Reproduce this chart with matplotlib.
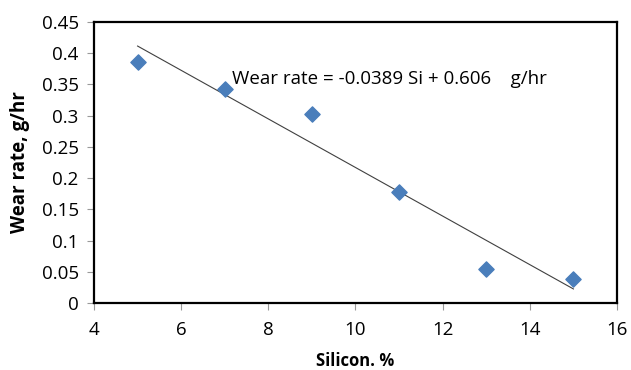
import matplotlib.pyplot as plt
import numpy as np

plt.rcParams['font.family'] = ['Open Sans', 'DejaVu Sans']

silicon = [5, 7, 9, 11, 13, 15]
wear = [0.386, 0.343, 0.302, 0.177, 0.055, 0.038]
slope = -0.0389
intercept = 0.606

fig = plt.figure(figsize=(6.31, 3.70), dpi=100)
ax = fig.add_axes([94/631, 1 - 303/370, 523/631, 281/370])

xs = np.array([min(silicon), max(silicon)])
ax.plot(xs, slope * xs + intercept, color='#404040', lw=0.8, zorder=2)
ax.scatter(silicon, wear, marker='D', s=60, color='#4a7ebb', zorder=3)

ax.text(7.17, 0.359, 'Wear rate = -0.0389 Si + 0.606    g/hr', fontsize=13.5,
        va='center', ha='left')

ax.set_xlim(4, 16)
ax.set_ylim(0, 0.45)
ax.set_xticks(range(4, 17, 2))
ax.set_yticks(np.arange(0, 0.451, 0.05))
ax.set_yticklabels(['0', '0.05', '0.1', '0.15', '0.2', '0.25', '0.3', '0.35', '0.4', '0.45'])
ax.tick_params(labelsize=13.5, length=5, color='#999999', direction='out', pad=6)
ax.tick_params(axis='x', pad=8)
for s in ax.spines.values():
    s.set_color('black')
    s.set_linewidth(1.6)

ax.set_xlabel('Silicon. %', fontsize=12, fontweight='bold')
ax.xaxis.set_label_coords(0.5, -0.175)
ax.set_ylabel('Wear rate, g/hr', fontsize=13.5, fontweight='bold', labelpad=8)

fig.savefig('out.png', dpi=100)
